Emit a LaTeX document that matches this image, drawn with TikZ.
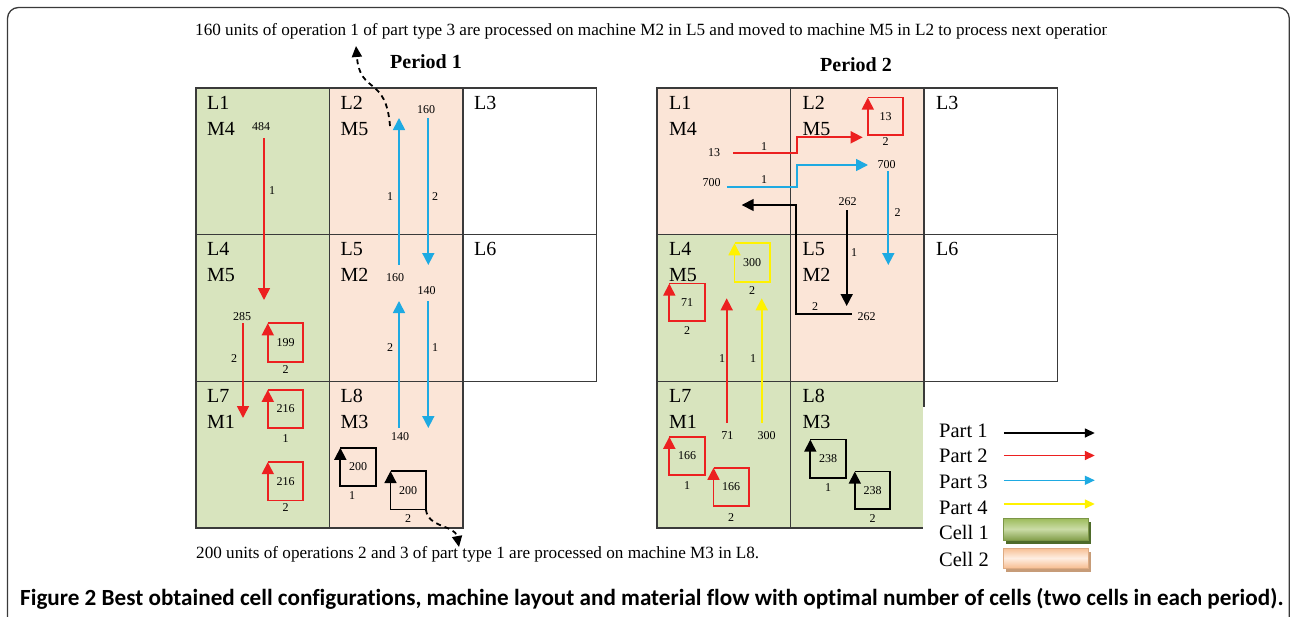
\documentclass[tikz,border=0pt]{standalone}
\usepackage{graphicx}
\usepackage{fontspec}
\setmainfont{Liberation Serif}
\newfontfamily\captionfont[Ligatures=CommonOff]{Carlito}
\usetikzlibrary{arrows.meta,positioning,shadows}

\definecolor{cellgreen}{HTML}{D8E4BE}
\definecolor{cellpeach}{HTML}{FBE5D7}
\definecolor{gridgray}{HTML}{3A3A3A}
\definecolor{partred}{HTML}{EC2020}
\definecolor{partblue}{HTML}{1EAAE2}
\definecolor{partyellow}{HTML}{FFF200}
\definecolor{keygreen}{HTML}{9BBB59}
\definecolor{keygreenlight}{HTML}{CADCA6}
\definecolor{keygreendark}{HTML}{4E6B2A}
\definecolor{keypeach}{HTML}{F7BE92}
\definecolor{keypeachlight}{HTML}{FEEEE2}
\definecolor{keypeachdark}{HTML}{C79C78}

\tikzset{
  cell/.style={draw=gridgray, line width=1.2pt, minimum width=133.5pt, minimum height=146.7pt,
    inner sep=0pt, outer sep=0pt, anchor=north west},
  loc/.style={font=\rmfamily\fontsize{20}{24}\selectfont, anchor=base west, inner sep=0pt},
  num/.style={font=\rmfamily\fontsize{12}{14}\selectfont, inner sep=0pt},
  loopbox/.style={num, minimum width=35pt, minimum height=38pt},
  flow/.style={line width=1.7pt, -{Triangle[length=12pt,width=12pt]}},
  dashflow/.style={line width=1.8pt, dash pattern=on 5pt off 4pt, -{Triangle[length=11pt,width=10pt]}},
  key/.style={font=\rmfamily\fontsize{20.5}{24}\selectfont, anchor=base west, inner sep=0pt},
  keyflow/.style={line width=1.5pt, -{Triangle[length=10pt,width=9pt]}},
  keybox/.style={minimum width=85pt, inner sep=0pt, line width=1pt},
}

\begin{document}
\begin{tikzpicture}[x=1pt,y=-1pt]
\useasboundingbox (0,0) rectangle (1290,616);

% outer frame
\draw[gridgray, line width=1.3pt, rounded corners=11pt] (7.5,650) -- (7.5,7.5) -- (1289.3,7.5) -- (1289.3,650);

% notes and titles
\begin{scope}
\clip (0,0) rectangle (1106,616);
\node[anchor=base west, inner sep=0pt] (toptext) at (195,35)
  {\resizebox{915pt}{!}{160 units of operation 1 of part type 3 are processed on machine M2 in L5 and moved to machine M5 in L2 to process next operation}};
\end{scope}
\node[anchor=base west, inner sep=0pt] (bottext) at (196,558)
  {\resizebox{563pt}{!}{200 units of operations 2 and 3 of part type 1 are processed on machine M3 in L8.}};
\node[anchor=base, font=\rmfamily\bfseries\fontsize{20}{24}\selectfont, inner sep=0pt] (per1) at (426,68) {Period 1};
\node[anchor=base, font=\rmfamily\bfseries\fontsize{20}{24}\selectfont, inner sep=0pt] (per2) at (856,71.5) {Period 2};
\node[anchor=base west, inner sep=0pt] (caption) at (20,605)
  {\resizebox{1263pt}{!}{\captionfont\bfseries Figure 2 Best obtained cell configurations, machine layout and material flow with optimal number of cells (two cells in each period).}};

% period 1 layout
\foreach \n/\x/\y/\f/\m in {1/196/88/cellgreen/M4, 2/329.5/88/cellpeach/M5, 3/463/88/white/{},
    4/196/234.7/cellgreen/M5, 5/329.5/234.7/cellpeach/M2, 6/463/234.7/white/{},
    7/196/381.3/cellgreen/M1, 8/329.5/381.3/cellpeach/M3} {
  \node[cell, fill=\f] (a\n) at (\x,\y) {};
  \node[loc] (aL\n) at ([shift={(11pt,-21pt)}]a\n.north west) {L\n};
  \node[loc] (aM\n) at ([shift={(11pt,-47pt)}]a\n.north west) {\m};
}

% period 2 layout
\foreach \n/\x/\y/\f/\m in {1/657/88/cellpeach/M4, 2/790.5/88/cellpeach/M5, 3/924/88/white/{},
    4/657/234.7/cellgreen/M5, 5/790.5/234.7/cellpeach/M2, 6/924/234.7/white/{},
    7/657/381.3/cellgreen/M1, 8/790.5/381.3/cellgreen/M3} {
  \node[cell, fill=\f] (b\n) at (\x,\y) {};
  \node[loc] (bL\n) at ([shift={(12pt,-21pt)}]b\n.north west) {L\n};
  \node[loc] (bM\n) at ([shift={(12pt,-47pt)}]b\n.north west) {\m};
}

% period 1 flows
\node[num] (a484) at (261,127) {484};
\coordinate (a484tip) at (264,300);
\draw[flow, partred, shorten <=7pt] (a484tip |- a484.south) -- (a484tip);
\node[num] (a285) at (242,317) {285};
\coordinate (a285tip) at (243,418);
\draw[flow, partred, shorten <=2pt] (a285tip |- a285.south) -- (a285tip);
\node[num] (a160b) at (395,278) {160};
\coordinate (a160btip) at (399,118);
\draw[flow, partblue, shorten <=9pt] (a160btip |- a160b.north) -- (a160btip);
\node[num] (a140b) at (400,437) {140};
\coordinate (a140btip) at (399,301);
\draw[flow, partblue, shorten <=5pt] (a140btip |- a140b.north) -- (a140btip);
\node[num] (a160a) at (426,110) {160};
\coordinate (a160atip) at (428.3,265);
\draw[flow, partblue, shorten <=4pt] (a160atip |- a160a.south) -- (a160atip);
\node[num] (a140a) at (426.7,291) {140};
\coordinate (a140atip) at (428.3,428);
\draw[flow, partblue, shorten <=6pt] (a140atip |- a140a.south) -- (a140atip);

\foreach \i/\x/\y/\t in {1/272/191/1, 2/234/359/2, 3/390/197/1, 4/390/348/2, 5/435/197/2, 6/435/348/1}
  \node[num] (aord\i) at (\x,\y) {\t};

% period 1 loops
\node[loopbox] (a199) at (285.5,342.5) {199};
\node[loopbox] (a216a) at (285.5,409) {216};
\node[loopbox] (a216b) at (285.5,481.3) {216};
\node[loopbox] (a200a) at (358,467) {200};
\node[loopbox] (a200b) at (408.2,490.3) {200};

% period 2 flows
\node[num] (b13s) at (714,152.7) {13};
\coordinate (b13tip) at (862.7,137.3);
\draw[flow, partred, shorten <=13pt] (b13s.east) -- (796.7,152.7) |- (b13tip);
\node[num] (b700a) at (711.7,183) {700};
\coordinate (b700atip) at (868,165);
\draw[flow, partblue, shorten <=6pt] ([yshift=-4pt]b700a.east) -- (797,187) |- (b700atip);
\node[num] (b700b) at (886.7,165) {700};
\coordinate (b700btip) at (888.3,265);
\draw[flow, partblue, shorten <=2pt] (b700btip |- b700b.south) -- (b700btip);
\node[num] (b262a) at (847.7,202) {262};
\coordinate (b262atip) at (846.7,306);
\draw[flow, black, shorten <=4pt] (b262atip |- b262a.south) -- (b262atip);
\node[num] (b262b) at (866.7,316.7) {262};
\coordinate (b262btip) at (741.7,205);
\draw[flow, black, shorten <=6pt] ([yshift=2.4pt]b262b.west) -- (795.7,314.3) |- (b262btip);
\node[num] (bn71) at (727.3,436) {71};
\coordinate (bn71tip) at (726.7,298.3);
\draw[flow, partred, shorten <=9pt] (bn71tip |- bn71.north) -- (bn71tip);
\node[num] (bn300) at (766.7,436) {300};
\coordinate (bn300tip) at (761.7,298.3);
\draw[flow, partyellow, shorten <=9pt] (bn300tip |- bn300.north) -- (bn300tip);

\foreach \i/\x/\y/\t in {1/764/146.7/1, 2/764/180/1, 3/897.7/212.7/2, 4/854/252.7/1, 5/815/307/2, 6/722/359/1, 7/753/359/1}
  \node[num] (bord\i) at (\x,\y) {\t};

% period 2 loops
\node[loopbox, minimum height=37pt] (b13) at (885.5,116.3) {13};
\node[loopbox] (b300) at (752.2,262.5) {300};
\node[loopbox, minimum height=37pt] (b71) at (687,302.3) {71};
\node[loopbox] (b166a) at (687,456) {166};
\node[loopbox] (b166b) at (731.2,487) {166};
\node[loopbox] (b238a) at (828,458.8) {238};
\node[loopbox, minimum height=37pt] (b238b) at (872.5,490.3) {238};

\foreach \bx/\c in {a199/partred, a216a/partred, a216b/partred, a200a/black, a200b/black,
    b13/partred, b300/partyellow, b71/partred, b166a/partred, b166b/partred, b238a/black, b238b/black}
  \draw[flow, \c] (\bx.north west) -- (\bx.north east) -- (\bx.south east) -- (\bx.south west) -- (\bx.north west);

\foreach \bx/\g/\t in {a199/4pt/2, a216a/6pt/1, a216b/3pt/2, a200b/4.5pt/2,
    b13/2.5pt/2, b300/5pt/2, b71/5pt/2, b166a/6pt/1, b166b/7pt/2, b238a/5pt/1, b238b/5pt/2}
  \node[num, below=\g of \bx] (\bx o) {\t};
\node[num, below=5pt of a200a, xshift=-6pt] (a200ao) {1};

% moves out of the layout
\coordinate (adashs) at (390,126);
\coordinate (adashe) at (356,46);
\draw[dashflow] (adashs) .. controls (386,75) and (360,95) .. (adashe);
\coordinate (bdashe) at (459,547);
\draw[dashflow] (a200b.south east) .. controls (428,528) and (455,525) .. (bdashe);

% legend
\fill[white] (923.3,407) rectangle (1115,586);
\foreach \i/\y/\t in {1/437/Part 1, 2/462/Part 2, 3/488/Part 3, 4/514/Part 4, 5/539/Cell 1, 6/566/Cell 2}
  \node[key] (key\i) at (939,\y) {\t};
\foreach \i/\s/\c in {1/4pt/black, 2/6.5pt/partred, 3/7.7pt/partblue, 4/10pt/partyellow}
  \draw[keyflow, \c] ([shift={(16pt,\s)}]key\i.base east) -- ++(91,0);
\node[keybox, minimum height=22pt, draw=keygreen!80!black, top color=keygreen, bottom color=keygreen!85!black,
  middle color=keygreenlight, drop shadow={fill=keygreendark, opacity=1, shadow xshift=3pt, shadow yshift=-4pt}]
  (key5box) at (1045.5,529) {};
\node[keybox, minimum height=20pt, draw=keypeach!90!black, top color=keypeach, bottom color=keypeach,
  middle color=keypeachlight, drop shadow={fill=keypeachdark, opacity=1, shadow xshift=3pt, shadow yshift=-4pt}]
  (key6box) at (1045.5,558) {};
\end{tikzpicture}
\end{document}
